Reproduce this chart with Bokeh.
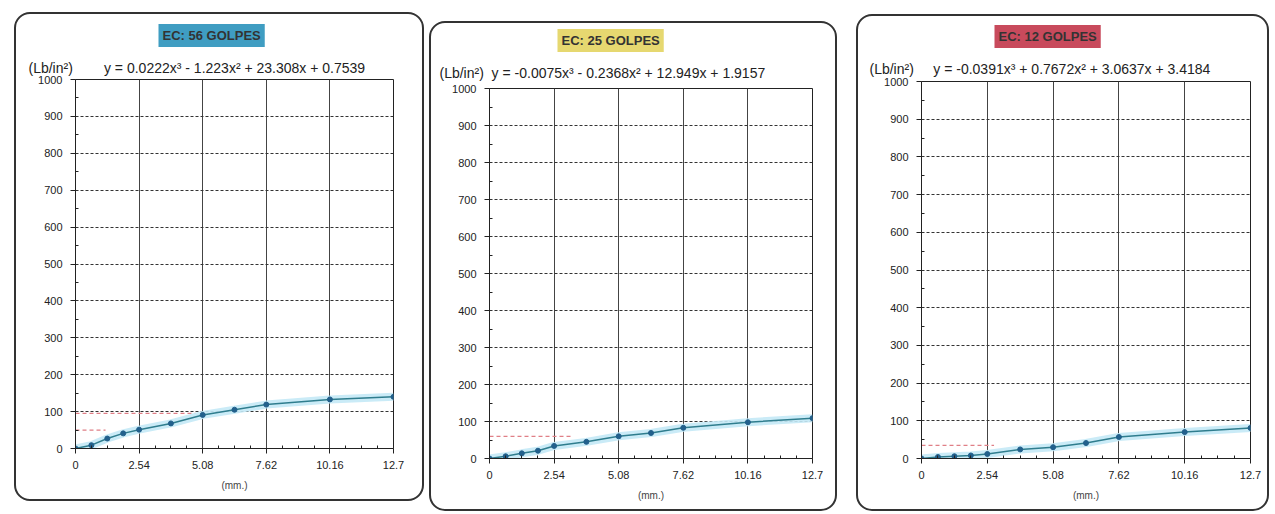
from bokeh.plotting import figure
from bokeh.models import Title, FixedTicker
from bokeh.layouts import row
from bokeh.embed import file_html
from bokeh.resources import INLINE

# ---- data ----
pen_mm = [0, 0.635, 1.27, 1.905, 2.54, 3.81, 5.08, 6.35, 7.62, 10.16, 12.7]
load_56 = [0, 9, 27, 41, 51, 68, 91, 105, 119, 133, 140]
load_25 = [0, 6, 14, 21, 34, 45, 60, 69, 83, 98, 109]
load_12 = [0, 4, 6, 8, 12, 24, 30, 41, 57, 70, 81]

x_ticks = [0, 2.54, 5.08, 7.62, 10.16, 12.7]
x_tick_labels = ["0", "2.54", "5.08", "7.62", "10.16", "12.7"]
x_minor = [0.635, 1.27, 1.905, 3.175, 3.81, 4.445, 5.715, 6.35, 6.985,
           8.255, 8.89, 9.525, 10.795, 11.43, 12.065]
y_ticks = [0, 100, 200, 300, 400, 500, 600, 700, 800, 900, 1000]
y_minor = [50, 150, 250, 350, 450, 550, 650, 750, 850, 950]

y_unit = "(Lb/in²)"
x_unit = "(mm.)"
panel_titles = ["EC: 56 GOLPES", "EC: 25 GOLPES", "EC: 12 GOLPES"]
equations = ["y = 0.0222x³ - 1.223x² + 23.308x + 0.7539",
             "y = -0.0075x³ - 0.2368x² + 12.949x + 1.9157",
             "y = -0.0391x³ + 0.7672x² + 3.0637x + 3.4184"]
title_colors = ["#3f9dc2", "#e6d870", "#c84a5c"]
ref_levels = [[95, 50], [60], [35]]
ref_ends = [[4.8, 1.2], [3.2], [2.8]]
loads = [load_56, load_25, load_12]

FONT = "Liberation Sans"

# layout geometry (pixels)
sizes = [(410, 489), (408, 490), (413, 497)]
borders = [(59, 33, 64, 55), (58, 27, 64, 55), (63, 21, 64, 55)]  # l, r, t, b
margins = [(12, 0, 0, 14), (21, 0, 0, 5), (14, 0, 0, 19)]
eq_gap = [8, 2, 5]            # spaces between unit label and equation
eq_offset = [-47, -50, -52]
eq_standoff = [7, 15, 9]
box_offset = [83, 68, 73]
box_standoff = [15, 7, 13]


def make_panel(i):
    w, h = sizes[i]
    bl, br, bt, bb = borders[i]
    p = figure(width=w, height=h, x_range=(0, 12.7), y_range=(0, 1000),
               output_backend="svg", toolbar_location=None,
               min_border_left=bl, min_border_right=br,
               min_border_top=bt, min_border_bottom=bb,
               background_fill_color="white", border_fill_color="white",
               border_fill_alpha=0.0,
               outline_line_color="#222", outline_line_width=1)
    p.margin = margins[i]
    p.styles = {"border": "2px solid #333", "border-radius": "16px",
                "box-sizing": "border-box"}

    # titles (closest to frame first)
    eq_text = y_unit + "\u00a0" * eq_gap[i] + equations[i]
    p.add_layout(Title(text=eq_text, align="left", offset=eq_offset[i],
                       text_font=FONT, text_font_size="14px",
                       text_font_style="normal", text_color="#222",
                       standoff=eq_standoff[i]), "above")
    p.add_layout(Title(text=panel_titles[i], align="left",
                       offset=box_offset[i],
                       text_font=FONT, text_font_size="13px",
                       text_font_style="bold", text_color="#333",
                       background_fill_color=title_colors[i],
                       padding=4, standoff=box_standoff[i]), "above")

    # axes
    p.xaxis.ticker = FixedTicker(ticks=x_ticks, minor_ticks=x_minor)
    p.xaxis.major_label_overrides = {t: l for t, l in zip(x_ticks, x_tick_labels)}
    p.yaxis.ticker = FixedTicker(ticks=y_ticks, minor_ticks=y_minor)
    p.xaxis.axis_label = x_unit
    p.xaxis.axis_label_text_font = FONT
    p.xaxis.axis_label_text_font_size = "10px"
    p.xaxis.axis_label_text_font_style = "normal"
    p.xaxis.axis_label_standoff = 8
    for ax in (p.xaxis, p.yaxis):
        ax.axis_line_color = "#222"
        ax.major_label_text_font = FONT
        ax.major_label_text_font_size = "11px"
        ax.major_label_text_color = "#222"
        ax.major_tick_line_color = "#222"
        ax.minor_tick_line_color = "#222"
        ax.major_tick_out = 5
        ax.major_tick_in = 0
        ax.minor_tick_in = 3
        ax.minor_tick_out = 0
    p.xaxis.major_label_standoff = 7
    p.yaxis.major_label_standoff = 8

    # grids
    p.xgrid.grid_line_color = "#444"
    p.xgrid.grid_line_width = 1
    p.ygrid.grid_line_color = "#333"
    p.ygrid.grid_line_dash = "3 2"
    p.ygrid.grid_line_width = 1

    # reference dashed lines
    levels = ref_levels[i]
    ends = ref_ends[i]
    p.segment(x0=[0] * len(levels), x1=ends, y0=levels, y1=levels,
              line_color="#e07f86", line_width=1.2, line_dash="4 3")

    # curve
    p.line(pen_mm, loads[i], line_color="#c4e9f6", line_width=8, line_alpha=0.9)
    p.line(pen_mm, loads[i], line_color="#2f7d8e", line_width=1.5)
    p.scatter(pen_mm, loads[i], size=5, marker="circle",
              fill_color="#22608c", line_color="#22608c")
    return p


panels = [make_panel(i) for i in range(3)]
layout = row(*panels, spacing=0)
open("out.html", "w").write(file_html(layout, INLINE))
